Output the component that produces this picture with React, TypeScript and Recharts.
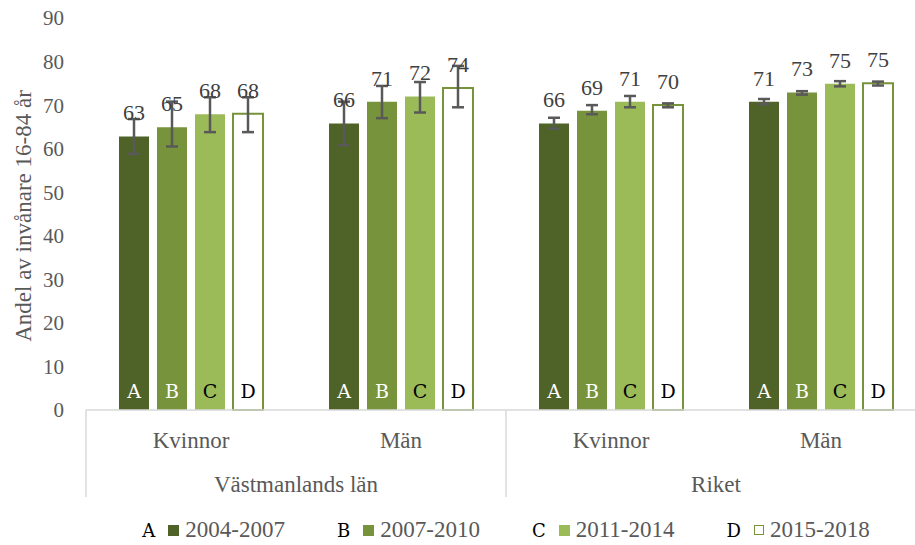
import React from 'react';
import { BarChart, Bar, XAxis, YAxis, ErrorBar, LabelList } from 'recharts';

// ---- data ----
const categories = ['Kvinnor', 'Män', 'Kvinnor', 'Män'];
const regions = ['Västmanlands län', 'Västmanlands län', 'Riket', 'Riket'];
const periods = ['2004-2007', '2007-2010', '2011-2014', '2015-2018'];
const letters = ['A', 'B', 'C', 'D'];

const values2004 = [62.8, 65.8, 65.8, 70.8];
const values2007 = [64.9, 70.8, 68.7, 72.9];
const values2011 = [67.9, 72.0, 70.8, 74.9];
const values2015 = [68.0, 73.9, 70.0, 75.0];

// [minus, plus]
const errors2004 = [[4.0, 4.0], [5.0, 5.0], [1.2, 1.3], [0.6, 0.6]];
const errors2007 = [[4.4, 5.9], [3.8, 3.6], [0.8, 1.3], [0.5, 0.3]];
const errors2011 = [[4.1, 3.9], [3.7, 3.3], [1.3, 1.3], [0.6, 0.6]];
const errors2015 = [[4.2, 3.8], [4.4, 5.1], [0.5, 0.4], [0.5, 0.4]];

const yTicks = [0, 10, 20, 30, 40, 50, 60, 70, 80, 90];
const yLabel = 'Andel av invånare 16-84 år';

// ---- styles ----
const SERIF = '"Liberation Serif", "Times New Roman", serif';
const LETTER_FONT = '"DejaVu Serif", serif';
const CHART_W = 940;
const CHART_H = 545;
const M_TOP = 18;
const M_LEFT = 0;
const Y_W = 86;
const M_RIGHT = 14;
const X_H = 90;
const M_BOTTOM = CHART_H - 410 - X_H;
const PLOT_W = CHART_W - Y_W - M_LEFT - M_RIGHT;
const PLOT_H = CHART_H - M_TOP - M_BOTTOM - X_H;

const seriesDefs = [
  { key: 'p0', values: values2004, errors: errors2004, fill: '#4F6228', stroke: 'none', letterFill: '#ffffff' },
  { key: 'p1', values: values2007, errors: errors2007, fill: '#77933C', stroke: 'none', letterFill: '#ffffff' },
  { key: 'p2', values: values2011, errors: errors2011, fill: '#9BBB59', stroke: 'none', letterFill: '#000000' },
  { key: 'p3', values: values2015, errors: errors2015, fill: '#ffffff', stroke: '#77933C', letterFill: '#000000' },
];

const data = categories.map((c, i) => {
  const row: any = { cat: c, idx: i };
  seriesDefs.forEach((s) => {
    row[s.key] = s.values[i];
    row[s.key + 'Err'] = s.errors[i];
  });
  return row;
});

const XTick = (props: any) => {
  const { x, y, payload } = props;
  const i = props.index ?? payload.index ?? 0;
  const bw = PLOT_W / categories.length;
  const newGroup = i === 0 || regions[i] !== regions[i - 1];
  let n = 0;
  if (newGroup) {
    for (let k = i; k < regions.length && regions[k] === regions[i]; k++) n++;
  }
  const lineStyle = { stroke: '#d9d9d9', strokeWidth: 1.5 };
  return (
    <g>
      <text x={x} y={y + 38} textAnchor="middle" fill="#595959" fontSize={23} fontFamily={SERIF}>
        {categories[i]}
      </text>
      {newGroup && (
        <>
          <line x1={x - bw / 2} x2={x - bw / 2} y1={y} y2={y + 87} {...lineStyle} />
          <text x={x - bw / 2 + (n * bw) / 2} y={y + 82} textAnchor="middle" fill="#595959" fontSize={23} fontFamily={SERIF}>
            {regions[i]}
          </text>
        </>
      )}
      {i === categories.length - 1 && (
        <line x1={x + bw / 2} x2={x + bw / 2} y1={y} y2={y + 87} {...lineStyle} />
      )}
    </g>
  );
};

const YLabel = () => {
  const cx = 31;
  const cy = M_TOP + PLOT_H / 2 + 2;
  return (
    <text
      x={cx}
      y={cy}
      transform={`rotate(-90, ${cx}, ${cy})`}
      textAnchor="middle"
      fill="#595959"
      fontSize={23}
      fontFamily={SERIF}
    >
      {yLabel}
    </text>
  );
};

const valueLabel = (props: any) => {
  const { x, y, width, value } = props;
  return (
    <text x={x + width / 2} y={y - 16} textAnchor="middle" fill="#404040" fontSize={22} fontFamily={SERIF}>
      {Math.round(Number(value))}
    </text>
  );
};

const makeLetterLabel = (letter: string, color: string) => (props: any) => {
  const { x, y, width, height } = props;
  return (
    <text x={x + width / 2} y={y + height - 12} textAnchor="middle" fill={color} fontSize={19} fontFamily={LETTER_FONT}>
      {letter}
    </text>
  );
};

const Legend = () => (
  <div
    style={{
      position: 'absolute',
      left: 86,
      width: PLOT_W,
      top: 517,
      display: 'flex',
      justifyContent: 'center',
      gap: 52,
      fontFamily: SERIF,
    }}
  >
    {seriesDefs.map((s, i) => (
      <div key={s.key} style={{ display: 'flex', alignItems: 'center', whiteSpace: 'nowrap' }}>
        <span style={{ fontFamily: LETTER_FONT, fontSize: 18, color: '#000', marginRight: 13 }}>{letters[i]}</span>
        <span
          style={{
            display: 'inline-block',
            width: s.stroke === 'none' ? 11 : 8,
            height: s.stroke === 'none' ? 11 : 8,
            background: s.fill,
            border: s.stroke === 'none' ? 'none' : `1.5px solid ${s.stroke}`,
            marginRight: 6,
          }}
        />
        <span style={{ fontSize: 23, color: '#595959' }}>{periods[i]}</span>
      </div>
    ))}
  </div>
);

export default function App() {
  return (
    <div style={{ position: 'fixed', left: 0, top: 0, width: 915, height: 545, overflow: 'hidden', background: '#fff' }}>
      <BarChart
        width={CHART_W}
        height={CHART_H}
        data={data}
        margin={{ top: M_TOP, right: M_RIGHT, bottom: M_BOTTOM, left: M_LEFT }}
        barSize={30}
        barGap={8}
      >
        <XAxis
          dataKey="cat"
          height={X_H}
          interval={0}
          tickLine={false}
          tickSize={0}
          tickMargin={0}
          axisLine={{ stroke: '#d9d9d9', strokeWidth: 1.5 }}
          tick={<XTick />}
          allowDuplicatedCategory={true}
        />
        <YAxis
          width={Y_W}
          domain={[0, 90]}
          ticks={yTicks}
          axisLine={false}
          tickLine={false}
          tickSize={0}
          tickMargin={22}
          interval={0}
          tick={{ fill: '#595959', fontSize: 21, fontFamily: SERIF }}
          label={{ content: () => <YLabel /> }}
        />
        {seriesDefs.map((s, i) => (
          <Bar
            key={s.key}
            dataKey={s.key}
            fill={s.fill}
            stroke={s.stroke}
            strokeWidth={s.stroke === 'none' ? 0 : 2}
            isAnimationActive={false}
          >
            <ErrorBar dataKey={s.key + 'Err'} width={6} stroke="#595959" strokeWidth={2.5} direction="y" />
            <LabelList dataKey={s.key} content={valueLabel} />
            <LabelList dataKey={s.key} content={makeLetterLabel(letters[i], s.letterFill)} />
          </Bar>
        ))}
      </BarChart>
      <Legend />
    </div>
  );
}
